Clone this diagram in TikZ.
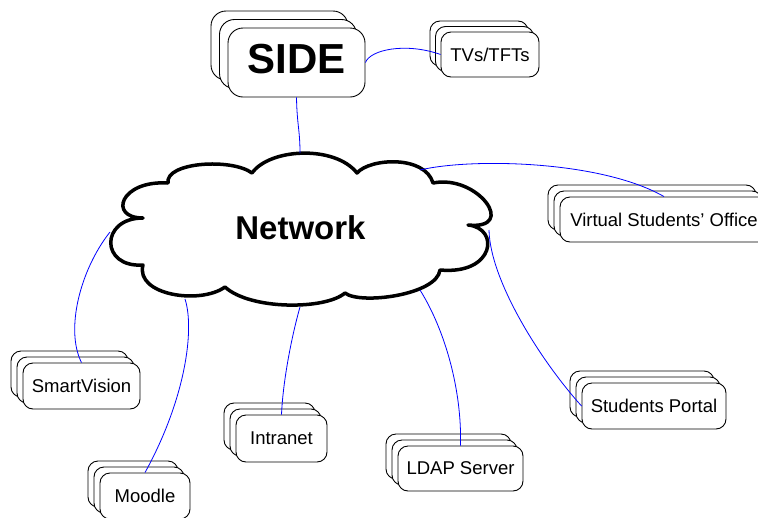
\documentclass[tikz,border=0pt]{standalone}
\usepackage{fontspec}
\setmainfont{Liberation Sans}
\usetikzlibrary{shadows}
\begin{document}
\begin{tikzpicture}[x=1pt,y=-1pt,
  stk/.style={draw=black, fill=white, line width=0.9pt, rounded corners=10pt, inner sep=0pt,
    font=\fontsize{18.5}{22}\selectfont,
    copy shadow={shadow xshift=-12pt, shadow yshift=12pt, draw=black, fill=white, line width=0.9pt},
    copy shadow={shadow xshift=-6pt, shadow yshift=6pt, draw=black, fill=white, line width=0.9pt}},
  stktv/.style={draw=black, fill=white, line width=0.9pt, rounded corners=10pt, inner sep=0pt,
    font=\fontsize{18.5}{22}\selectfont,
    copy shadow={shadow xshift=-11pt, shadow yshift=11pt, draw=black, fill=white, line width=0.9pt},
    copy shadow={shadow xshift=-5.5pt, shadow yshift=5.5pt, draw=black, fill=white, line width=0.9pt}},
  stkside/.style={draw=black, fill=white, line width=0.9pt, rounded corners=15pt, inner sep=0pt,
    font=\fontsize{42}{48}\selectfont\bfseries, text depth=7pt,
    copy shadow={shadow xshift=-17pt, shadow yshift=17pt, draw=black, fill=white, line width=0.9pt},
    copy shadow={shadow xshift=-8.5pt, shadow yshift=8.5pt, draw=black, fill=white, line width=0.9pt}},
  conn/.style={draw=blue, line width=0.8pt},
  cloudline/.style={draw=black, fill=white, line width=3.5pt, line join=round}
]
\useasboundingbox (0,0) rectangle (758,517);

% cloud
\draw[cloudline] (168,183)
  .. controls (165,162) and (232,158) .. (252,173)
  .. controls (270,148) and (335,145) .. (357,173)
  .. controls (370,158) and (425,155) .. (433,183)
  .. controls (478,174) and (518,230) .. (468,225)
  .. controls (500,228) and (495,275) .. (440,270)
  .. controls (437,295) and (360,305) .. (345,293)
  .. controls (325,310) and (250,310) .. (225,287)
  .. controls (200,305) and (135,295) .. (143,265)
  .. controls (100,268) and (100,218) .. (143,218)
  .. controls (108,218) and (120,180) .. (168,183) -- cycle;
\node[font=\fontsize{33}{38}\selectfont\bfseries, inner sep=0pt] (net) at (300.5,228) {Network};

\coordinate (ntop) at (300,153);
\coordinate (nvso) at (420,170);
\coordinate (nsv) at (110,232);
\coordinate (nmoo) at (185,299);
\coordinate (nint) at (300,307);
\coordinate (nldap) at (420,290);
\coordinate (nsp) at (489,230);

% boxes
\node[stkside, minimum width=137pt, minimum height=69pt] (side) at (296.5,62.5) {SIDE};
\node[stktv, minimum width=98pt, minimum height=45pt] (tvs) at (490,54.5) {TVs/TFTs};
\node[stk, minimum width=208pt, minimum height=45pt] (vso) at (664,219.5) {Virtual Students' Office};
\node[stk, minimum width=117pt, minimum height=46pt] (sv) at (81.5,386) {SmartVision};
\node[stk, minimum width=90pt, minimum height=46pt] (moodle) at (145,496) {Moodle};
\node[stk, minimum width=91pt, minimum height=47pt] (intranet) at (281.5,438.5) {Intranet};
\node[stk, minimum width=125pt, minimum height=45pt] (ldap) at (460.5,468.5) {LDAP Server};
\node[stk, minimum width=144pt, minimum height=46pt] (sp) at (654,406) {Students Portal};

% connectors
\draw[conn] (side.south) .. controls (297,125) and (300,130) .. (ntop);
\draw[conn] (side.east) .. controls (370,50) and (405,42) .. (tvs.west);
\draw[conn] (nvso) .. controls (470,158) and (600,160) .. (vso.north);
\draw[conn] (nsv) .. controls (80,270) and (65,330) .. (sv.north);
\draw[conn] (nmoo) .. controls (195,330) and (185,400) .. (moodle.north);
\draw[conn] (nint) .. controls (292,335) and (283,380) .. (intranet.north);
\draw[conn] (nldap) .. controls (445,330) and (462,390) .. (ldap.north);
\draw[conn] (nsp) .. controls (490,280) and (540,360) .. (sp.west);
\end{tikzpicture}
\end{document}
